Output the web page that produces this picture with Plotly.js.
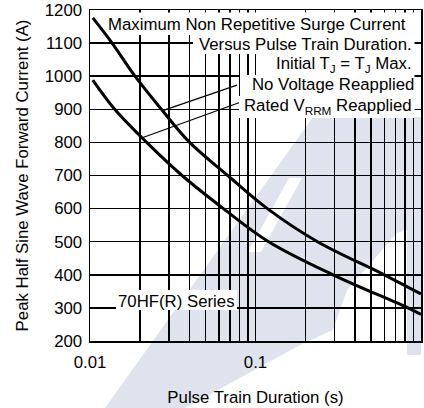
<!DOCTYPE html>
<html>
<head>
<meta charset="utf-8">
<script src="https://cdn.plot.ly/plotly-3.0.1.min.js"></script>
<style>
  html, body { margin: 0; padding: 0; background: #fff; }
  #chart { width: 424px; height: 408px; }
</style>
</head>
<body>
<div id="chart"></div>
<script>
// Peak surge current versus pulse train duration, initial TJ = TJ max
const noVoltageDuration = [0.0104, 0.0136, 0.0187, 0.027, 0.040, 0.068, 0.118, 0.237, 0.60, 1.0];
const noVoltageCurrent  = [1176, 1100, 1000, 900, 800, 700, 600, 500, 400, 342];

const ratedDuration = [0.0104, 0.0141, 0.022, 0.036, 0.064, 0.12, 0.294, 0.834, 1.0];
const ratedCurrent  = [988, 900, 800, 700, 600, 500, 400, 300, 280];

// Leader lines from each curve to its label
const leaderNoVoltageX = [0.0275, 0.0773];
const leaderNoVoltageY = [896, 973];
const leaderRatedX = [0.0209, 0.0817];
const leaderRatedY = [815, 922];

// Log-decade grid with labels only at the decades
const xTickValues = [0.01, 0.02, 0.03, 0.04, 0.05, 0.06, 0.07, 0.08, 0.09,
                     0.1, 0.2, 0.3, 0.4, 0.5, 0.6, 0.7, 0.8, 0.9, 1];
const xTickLabels = ['0.01', '', '', '', '', '', '', '', '',
                     '0.1', '', '', '', '', '', '', '', '', '1'];

const yRange = [200, 1200];

const W = 424, H = 408;
const M = { l: 90, r: 3, t: 10, b: 67 };
const plotW = W - M.l - M.r, plotH = H - M.t - M.b;
const px = v => (v - M.l) / plotW;        // page x -> paper x
const py = v => (H - M.b - v) / plotH;    // page y -> paper y

const FONT = '"Liberation Sans", Arial, sans-serif';
const FS = 16.8;

const curveLine = { color: '#000', width: 3, shape: 'spline', smoothing: 1 };

const traces = [
  { x: noVoltageDuration, y: noVoltageCurrent, mode: 'lines', line: curveLine, hoverinfo: 'skip' },
  { x: ratedDuration, y: ratedCurrent, mode: 'lines', line: curveLine, hoverinfo: 'skip' },
  { x: leaderNoVoltageX, y: leaderNoVoltageY, mode: 'lines', line: { color: '#000', width: 1.2 }, hoverinfo: 'skip' },
  { x: leaderRatedX, y: leaderRatedY, mode: 'lines', line: { color: '#000', width: 1.2 }, hoverinfo: 'skip' }
];

// Faint background logo wash
const WASH = '#dfe3ee';
function poly(points) {
  return 'M ' + points.map(p => px(p[0]).toFixed(4) + ',' + py(p[1]).toFixed(4)).join(' L ') + ' Z';
}
const washShapes = [
  { type: 'path', xref: 'paper', yref: 'paper', layer: 'below', fillcolor: WASH, line: { width: 0 },
    path: poly([[105, 408], [313, 117], [421, 117], [421, 355], [407, 355], [407, 230], [397, 233],
                [347, 290], [333, 330], [300, 345], [185, 408]]) },
  { type: 'path', xref: 'paper', yref: 'paper', layer: 'below', fillcolor: '#ffffff', line: { width: 0 },
    path: poly([[248, 252], [261, 252], [302, 178], [289, 178]]) }
];

// White label backgrounds sitting over the grid
function box(x0, x1, y0, y1) {
  return { type: 'rect', xref: 'paper', yref: 'paper', layer: 'above',
           x0: px(x0), x1: px(x1), y0: py(y1), y1: py(y0),
           fillcolor: '#ffffff', line: { width: 0 } };
}
const labelBoxes = [
  box(110, 414.5, 12.5, 35),
  box(193, 414.5, 35, 54),
  box(268, 414.5, 54, 75),
  box(240, 414.5, 75, 96),
  box(239, 414.5, 96, 118),
  box(116, 237, 290, 310)
];

function label(text, x, y, anchor) {
  return { text: text, xref: 'paper', yref: 'paper', x: px(x), y: py(y),
           xanchor: anchor || 'right', yanchor: 'middle', showarrow: false,
           borderpad: 0, borderwidth: 0,
           font: { family: FONT, size: FS, color: '#000' } };
}
const annotations = [
  label('Maximum Non Repetitive Surge Current', 406, 24.5),
  label('Versus Pulse Train Duration.', 412, 44),
  label('Initial T<sub>J</sub> = T<sub>J</sub> Max.', 412, 65),
  label('No Voltage Reapplied', 413.5, 84.5),
  label('Rated V<sub>RRM</sub> Reapplied', 412, 106.5),
  label('70HF(R) Series', 118, 301.5, 'left')
];

const axisCommon = {
  showgrid: true, gridcolor: '#000', gridwidth: 1.5,
  showline: true, linecolor: '#000', linewidth: 1.5, mirror: true,
  ticks: '', zeroline: false, fixedrange: true,
  tickfont: { family: FONT, size: FS, color: '#000' }
};

const layout = {
  width: W, height: H, margin: M,
  paper_bgcolor: '#ffffff', plot_bgcolor: 'rgba(0,0,0,0)',
  showlegend: false,
  font: { family: FONT, size: FS, color: '#000' },
  xaxis: Object.assign({}, axisCommon, {
    type: 'log', range: [-2, 0],
    tickmode: 'array', tickvals: xTickValues, ticktext: xTickLabels,
    ticklabelstandoff: 5,
    title: { text: 'Pulse Train Duration (s)', font: { family: FONT, size: FS, color: '#000' }, standoff: 20 }
  }),
  yaxis: Object.assign({}, axisCommon, {
    range: yRange, tick0: 200, dtick: 100,
    ticklabelstandoff: 3,
    title: { text: 'Peak Half Sine Wave Forward Current (A)', font: { family: FONT, size: FS, color: '#000' }, standoff: 12 }
  }),
  shapes: washShapes.concat(labelBoxes),
  annotations: annotations
};

Plotly.newPlot('chart', traces, layout, { staticPlot: true, displayModeBar: false });
</script>
</body>
</html>
